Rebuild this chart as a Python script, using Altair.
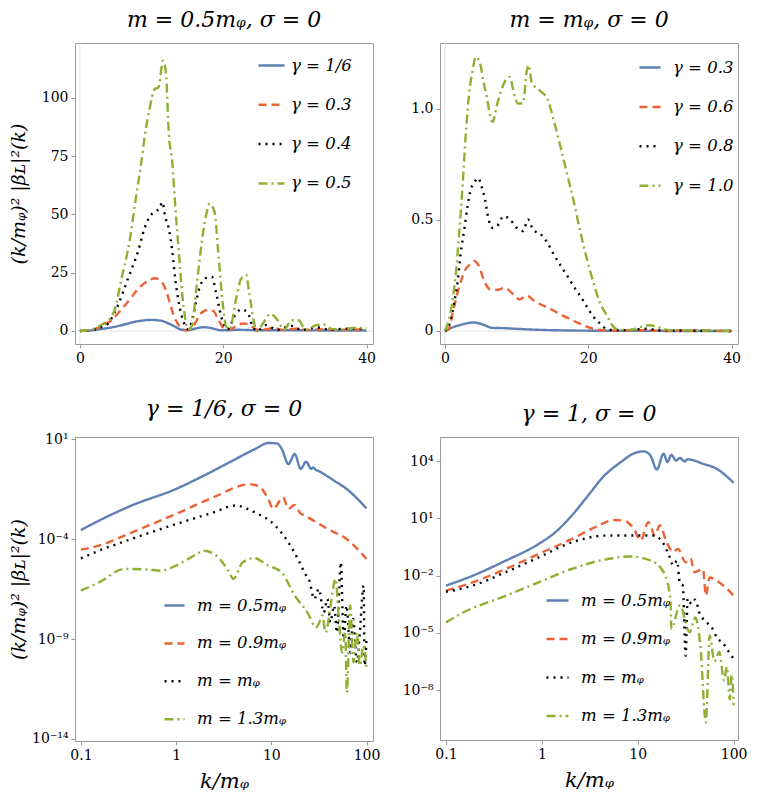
import altair as alt
import pandas as pd

FONT = "DejaVu Serif"
COLORS = ["#5E81B5", "#EB6235", "#000000", "#8FB032"]
DASHES = [[1, 0], [8, 5], [2, 5], [9, 4, 2, 4]]

# ---------------- panel 1: m = 0.5 m_phi (linear) ----------------
p1_names = ["γ = 1/6", "γ = 0.3", "γ = 0.4", "γ = 0.5"]
p1_k_blue = [0, 1.5, 2.7, 4, 5.3, 6.5, 7.6, 8.6, 9.45, 10.2, 10.8, 11.5, 12.1, 12.6, 13.3, 14, 15, 16.1, 17.3, 18.2, 19, 19.6, 20.5, 22, 25, 30, 35, 40]
p1_v_blue = [0, 0.2, 0.7, 1.3, 2.1, 3.0, 3.9, 4.4, 4.7, 4.75, 4.6, 4.3, 3.6, 2.9, 1.8, 0.7, 0.3, 1.0, 1.6, 1.3, 0.7, 0.3, 0.3, 0.5, 0.3, 0.3, 0.2, 0.2]
p1_k_red = [0, 1.5, 2.6, 3.5, 4.4, 5.3, 6.3, 7.2, 8.1, 8.8, 9.45, 10.5, 11.5, 12.0, 12.4, 12.8, 13.1, 13.6, 14, 15, 16, 16.75, 17.3, 17.9, 18.6, 19.3, 20, 20.7, 21.8, 22.7, 23.6, 24.5, 25.5, 27, 28.5, 30, 32, 34, 36, 38, 40]
p1_v_red = [0, 0.4, 1.4, 2.8, 4.6, 7.5, 11, 14.5, 18, 20, 21.4, 22.6, 20.7, 17.5, 13.6, 9.5, 6.4, 3.5, 1.4, 0.3, 2.9, 7.1, 8.5, 9, 8.6, 5, 1.4, 0.5, 2, 3.2, 2.9, 0.7, 0.5, 1.2, 0.4, 1.0, 0.4, 0.8, 0.4, 0.6, 0.4]
p1_k_black = [0, 1.5, 2.4, 3.2, 4, 4.6, 5.3, 6, 6.7, 7.4, 8.1, 9.0, 9.7, 10.6, 11.1, 11.5, 11.9, 12.4, 12.9, 13.3, 13.8, 14.5, 15.1, 15.6, 16.1, 16.8, 17.4, 18.4, 19.0, 19.7, 20.6, 21.6, 22.5, 23.4, 24.1, 24.7, 26, 27.5, 29.5, 31, 33, 35, 37, 40]
p1_v_black = [0, 0.3, 1, 2, 3.3, 6.5, 11, 16.5, 22.4, 28, 34, 43.9, 48.9, 51.4, 52.5, 55.3, 49, 44, 34, 22.4, 12.1, 3.6, 0.7, 4, 11, 19.5, 22.4, 23.3, 16.4, 6.4, 0.7, 6.4, 9.3, 7.9, 2, 0, 2.5, 0.4, 2.2, 0.4, 1.5, 0.5, 1.0, 0.8]
p1_k_green = [0, 1.5, 2.4, 3.2, 4.0, 4.9, 5.8, 6.9, 7.85, 8.5, 9.2, 9.7, 10.45, 10.96, 11.6, 12.0, 12.4, 12.9, 13.3, 13.8, 14.25, 14.7, 15.1, 15.6, 16.3, 17.0, 17.7, 18.1, 18.8, 19.3, 19.96, 20.4, 20.9, 21.8, 22.5, 23.2, 23.6, 24.3, 24.7, 25.7, 26.6, 27.5, 28.5, 29.5, 30.5, 31.5, 33, 34, 35, 36.5, 38, 39, 40]
p1_v_green = [0, 0.4, 1.7, 3, 4.6, 9.6, 22.4, 38, 58, 71, 86.7, 95, 103.9, 104.5, 116, 111, 85, 72, 54, 34, 16.7, 5.3, 0.7, 2, 19.6, 38, 51, 54.6, 51, 34, 11, 2, 0.7, 13.9, 22.4, 24, 17, 3.6, 0, 4, 7.4, 5, 0.5, 4.6, 4.6, 0.5, 2.5, 2.8, 1, 0.5, 1.3, 1.3, 1.3]

# ---------------- panel 2: m = m_phi (linear) ----------------
p2_names = ["γ = 0.3", "γ = 0.6", "γ = 0.8", "γ = 1.0"]
p2_k_blue = [0, 1.0, 2.47, 3.3, 4.07, 4.8, 5.2, 6.0, 6.6, 8, 9.9, 11.7, 14.4, 18, 22, 26, 30, 35, 40]
p2_v_blue = [0, 0.015, 0.03, 0.036, 0.038, 0.034, 0.03, 0.02, 0.014, 0.013, 0.01, 0.007, 0.004, 0.002, 0.001, 0.0005, 0.0003, 0.0002, 0.0001]
p2_k_red = [0, 0.5, 1.2, 2.0, 2.9, 3.5, 4.07, 4.75, 5.4, 6.3, 7.26, 8.4, 9.3, 10.45, 11.4, 12.5, 13.9, 15.25, 16.6, 18, 19.4, 20.7, 22.1, 23.5, 25, 28, 30, 35, 40]
p2_v_red = [0, 0.007, 0.098, 0.2, 0.278, 0.30, 0.315, 0.292, 0.232, 0.188, 0.185, 0.195, 0.172, 0.142, 0.16, 0.134, 0.112, 0.09, 0.067, 0.045, 0.025, 0.01, 0.003, 0.001, 0.002, 0.004, 0.001, 0.001, 0.0]
p2_k_black = [0, 0.5, 1.3, 1.8, 2.2, 2.7, 3.15, 3.6, 4.07, 4.66, 5.1, 5.6, 6.1, 6.6, 7.26, 8.2, 9.1, 10.0, 10.9, 11.6, 12.3, 13.4, 14.3, 15.2, 16.2, 17.1, 18, 18.9, 19.8, 20.7, 21.6, 22.6, 24, 26, 28, 30, 33, 36, 40]
p2_v_black = [0, 0.02, 0.128, 0.23, 0.35, 0.456, 0.56, 0.637, 0.667, 0.689, 0.652, 0.592, 0.502, 0.465, 0.472, 0.517, 0.502, 0.465, 0.45, 0.502, 0.457, 0.435, 0.397, 0.344, 0.292, 0.247, 0.2, 0.157, 0.11, 0.065, 0.035, 0.008, 0.003, 0.005, 0.01, 0.003, 0.002, 0.001, 0.0]
p2_k_green = [0, 0.4, 1.1, 1.55, 2.0, 2.47, 2.9, 3.4, 3.84, 4.3, 4.97, 5.4, 5.9, 6.3, 6.67, 7.26, 7.95, 8.6, 9.1, 9.5, 10.2, 10.9, 11.4, 11.7, 12.1, 13.2, 14.3, 15.25, 16.2, 17.1, 18.0, 18.9, 19.8, 20.7, 21.6, 22.6, 23.5, 24.4, 26, 27, 28.5, 30, 31, 33, 36, 40]
p2_v_green = [0, 0.033, 0.145, 0.266, 0.446, 0.656, 0.88, 1.077, 1.167, 1.234, 1.197, 1.12, 1.046, 0.97, 0.941, 1.017, 1.091, 1.136, 1.144, 1.091, 1.024, 1.026, 1.167, 1.197, 1.12, 1.084, 1.046, 0.941, 0.821, 0.701, 0.581, 0.446, 0.326, 0.22, 0.13, 0.07, 0.02, 0.005, 0.005, 0.015, 0.026, 0.015, 0.005, 0.003, 0.002, 0.001]

# ---------------- panel 3: gamma = 1/6 (log-log) ----------------
p34_names = ["m = 0.5mᵩ", "m = 0.9mᵩ", "m = mᵩ", "m = 1.3mᵩ"]
p3_k_blue = [0.1, 0.155, 0.34, 1, 1.66, 3.63, 6.76, 9.3, 11.5, 12.9, 15.1, 17.6, 20.4, 23.2, 26.3, 27.5, 29.5, 30.9, 35.5, 45.7, 61.7, 100]
p3_v_blue = [2.8e-4, 8.3e-4, 4.7e-3, 0.032, 0.1, 0.68, 3.16, 6.3, 6.0, 3.16, 0.56, 1.78, 0.32, 0.74, 0.32, 0.38, 0.28, 0.26, 0.18, 0.083, 0.032, 3.4e-3]
p3_k_red = [0.1, 0.155, 0.34, 1, 2.45, 5.9, 7.4, 9.3, 10.5, 13.3, 15.1, 17.6, 20, 22.4, 38.9, 61.7, 100]
p3_v_red = [2.95e-5, 4.7e-5, 2.1e-4, 1.8e-3, 0.012, 0.054, 0.043, 0.01, 3.2e-3, 0.012, 3.2e-3, 5e-3, 2e-3, 1.5e-3, 3.2e-4, 1e-4, 1e-5]
p3_k_black = [0.1, 0.155, 0.34, 1, 2.45, 4.17, 6.76, 11, 15.1, 19, 23.2, 25.1, 28.2, 31.6, 35.5, 38.9, 41.7, 45.7, 49, 53.7, 57.5, 61.7, 67.6, 72.4, 79.4, 85.1, 93.3, 95.5, 100]
p3_v_black = [1.07e-5, 2.6e-5, 1e-4, 5.6e-4, 2.1e-3, 4.7e-3, 2.1e-3, 4.7e-4, 6.8e-5, 1e-5, 1.5e-6, 8.3e-7, 1e-7, 3.2e-7, 2.1e-8, 1e-7, 6.8e-9, 4.7e-8, 2.1e-9, 6.8e-6, 1e-9, 4.7e-8, 2.1e-10, 1e-8, 6.8e-11, 2.1e-9, 4.7e-7, 4.7e-11, 1e-9]
p3_k_green = [0.1, 0.155, 0.288, 0.5, 0.69, 1, 1.66, 1.95, 2.63, 3.63, 3.98, 5.0, 6.6, 9.3, 12.9, 17.6, 24, 29.5, 33.1, 34.4, 37.2, 42, 47.2, 51, 55.3, 59.8, 62.2, 67.3, 73, 78.9, 85.3, 92.5, 100]
p3_v_green = [2.6e-7, 6.8e-7, 3.2e-6, 3.0e-6, 2.6e-6, 4.7e-6, 1.8e-5, 2.6e-5, 1.5e-5, 2.1e-6, 1e-6, 6.8e-6, 1.1e-5, 4.7e-6, 2.1e-6, 1.5e-7, 2.1e-8, 3.8e-9, 1e-8, 1.5e-8, 2.1e-9, 4.7e-8, 1e-6, 1.5e-8, 2.1e-10, 2.1e-9, 2.1e-12, 4.7e-8, 6.8e-11, 2.1e-9, 4.7e-11, 4.7e-10, 3.2e-11]

# ---------------- panel 4: gamma = 1 (log-log) ----------------
p4_k_blue = [0.1, 0.19, 0.42, 0.925, 1.374, 2.04, 3.02, 4.47, 6.6, 9.1, 11.5, 13.5, 15.8, 18.6, 20.4, 22.4, 25.1, 27.5, 30.9, 33.1, 47.9, 66.1, 100]
p4_v_blue = [2.95e-3, 9.8e-3, 0.06, 0.45, 1.82, 13.5, 151, 1700, 8500, 2.5e4, 3.2e4, 2.0e4, 3600, 2.4e4, 8900, 2.1e4, 1.07e4, 1.45e4, 9500, 1.23e4, 7200, 4000, 720]
p4_k_red = [0.1, 0.19, 0.42, 0.925, 2.04, 3.55, 5.7, 7.4, 9.1, 10.7, 12.9, 15.1, 17, 20, 23.4, 26.3, 31.6, 35.5, 38.9, 47.9, 51.3, 56.2, 66.1, 100]
p4_v_red = [1.6e-3, 4.4e-3, 0.022, 0.135, 0.81, 3.3, 8.1, 7.2, 2.8, 0.69, 6.3, 1.26, 4.3, 0.56, 0.17, 0.25, 0.05, 0.08, 0.015, 0.022, 8.9e-4, 7.9e-3, 5.5e-3, 8.9e-4]
p4_k_black = [0.1, 0.19, 0.42, 0.925, 2.04, 4.47, 9.8, 14.5, 18.6, 21.4, 23.4, 25.7, 27.5, 29.5, 31.6, 33.1, 36.3, 39.8, 43.7, 47.9, 54, 60.3, 67.6, 75.9, 89.1, 100]
p4_v_black = [1.4e-3, 2.95e-3, 0.015, 0.089, 0.54, 1.23, 1.26, 1.26, 0.46, 0.1, 0.034, 0.06, 4e-3, 3.0e-3, 6.3e-7, 6.3e-4, 3.2e-4, 5.4e-4, 1.2e-4, 5.4e-5, 3e-5, 1.6e-5, 5e-6, 3.2e-6, 1e-6, 4.3e-7]
p4_k_green = [0.1, 0.14, 0.42, 0.925, 2.04, 4.47, 8.3, 13.5, 18.6, 21.9, 22.4, 27.5, 34.7, 39.8, 45, 51.3, 56.2, 63, 70.8, 79.4, 85.1, 91.2, 95.5, 100]
p4_v_green = [3.5e-5, 9.5e-5, 8.7e-4, 4.4e-3, 0.022, 0.068, 0.1, 0.062, 0.015, 6e-4, 1.6e-5, 2.7e-4, 1.07e-5, 6.3e-5, 2e-6, 2e-10, 7.2e-6, 3.2e-7, 1e-6, 3.2e-8, 1.6e-7, 3.2e-9, 6.3e-8, 1.6e-9]

# ---------------- tick labels ----------------
p1_xticks = [0, 20, 40]
p1_yticks = [0, 25, 50, 75, 100]
p2_yticks = [0, 0.5, 1.0]
log_xticks = [0.1, 1, 10, 100]
p3_yticks = [1e-14, 1e-9, 1e-4, 10]
p3_ylabels = {-14: "10⁻¹⁴", -9: "10⁻⁹", -4: "10⁻⁴", 1: "10¹"}
p4_yticks = [1e-8, 1e-5, 1e-2, 10, 1e4]
p4_ylabels = {-8: "10⁻⁸", -5: "10⁻⁵", -2: "10⁻²", 1: "10¹", 4: "10⁴"}

YTITLE = "(k/mᵩ)² |βʟ|²(k)"
XTITLE = "k/mᵩ"


def pow_expr(labels):
    e = "round(log(datum.value)/LN10)"
    s = "''"
    for exp, lab in labels.items():
        s = f"{e} == {exp} ? '{lab}' : ({s})"
    return s


def frame(names, ks, vs):
    rows = []
    for n, kk, vv in zip(names, ks, vs):
        for a, b in zip(kk, vv):
            rows.append({"k": a, "v": b, "series": n})
    return pd.DataFrame(rows)


def panel(names, ks, vs, xscale, yscale, xaxis, yaxis, title, lx, ly, symlen, loff, rowpad,
          w, h, zero_lines):
    df = frame(names, ks, vs)
    entry_h = max(symlen, 17)
    leg = alt.Legend(title=None, orient="none", legendX=lx, legendY=ly - entry_h / 2,
                     symbolType="stroke", symbolSize=symlen * symlen, symbolStrokeWidth=2.5,
                     labelFont=FONT, labelFontSize=16.5, labelFontStyle="italic",
                     labelColor="black", labelOffset=loff, rowPadding=rowpad,
                     padding=0)
    line = alt.Chart(df).mark_line(clip=True, strokeWidth=2.4, interpolate="monotone").encode(
        x=alt.X("k:Q", scale=xscale, axis=xaxis),
        y=alt.Y("v:Q", scale=yscale, axis=yaxis),
        color=alt.Color("series:N", scale=alt.Scale(domain=names, range=COLORS), legend=leg),
        strokeDash=alt.StrokeDash("series:N", scale=alt.Scale(domain=names, range=DASHES), legend=leg),
    )
    layers = []
    if zero_lines:
        z = pd.DataFrame({"k": [0], "v": [0]})
        layers.append(alt.Chart(z).mark_rule(color="#e3e3e3", strokeWidth=1).encode(y="v:Q"))
        layers.append(alt.Chart(z).mark_rule(color="#e3e3e3", strokeWidth=1).encode(x="k:Q"))
    layers.append(line)
    return alt.layer(*layers).properties(width=w, height=h, title=title)


W = 298
lin_x = alt.Scale(domain=[-0.685, 40.9], nice=False, zero=False)
ax_top_x = alt.Axis(values=p1_xticks, title="", format="d")

tl = panel(p1_names, [p1_k_blue, p1_k_red, p1_k_black, p1_k_green],
           [p1_v_blue, p1_v_red, p1_v_black, p1_v_green],
           lin_x, alt.Scale(domain=[-5.6, 123.6], nice=False, zero=False),
           ax_top_x,
           alt.Axis(values=p1_yticks, title=YTITLE, titlePadding=13, format="d"),
           "m = 0.5mᵩ, σ = 0", 182, 21, 26, 5, 16.3, W, 301, True)

tr = panel(p2_names, [p2_k_blue, p2_k_red, p2_k_black, p2_k_green],
           [p2_v_blue, p2_v_red, p2_v_black, p2_v_green],
           lin_x, alt.Scale(domain=[-0.0586, 1.297], nice=False, zero=False),
           ax_top_x,
           alt.Axis(values=p2_yticks, title="",
                    labelExpr="datum.value == 0 ? '0' : format(datum.value, '.1f')"),
           "m = mᵩ, σ = 0", 198, 23, 21, 11, 18.4, W, 301, True)

log_xaxis = alt.Axis(values=log_xticks, title=XTITLE, format="~g", titlePadding=8, titleFontSize=21)

bl = panel(p34_names, [p3_k_blue, p3_k_red, p3_k_black, p3_k_green],
           [p3_v_blue, p3_v_red, p3_v_black, p3_v_green],
           alt.Scale(type="log", domain=[0.0867, 117], nice=False),
           alt.Scale(type="log", domain=[7.94e-15, 12.6], nice=False),
           log_xaxis,
           alt.Axis(values=p3_yticks, title=YTITLE, titlePadding=3, labelExpr=pow_expr(p3_ylabels)),
           "γ = 1/6, σ = 0", 88, 167, 20, 11, 17.9, W, 304, False)

br = panel(p34_names, [p4_k_blue, p4_k_red, p4_k_black, p4_k_green],
           [p4_v_blue, p4_v_red, p4_v_black, p4_v_green],
           alt.Scale(type="log", domain=[0.0867, 111], nice=False),
           alt.Scale(type="log", domain=[2.4e-11, 1.82e5], nice=False),
           log_xaxis,
           alt.Axis(values=p4_yticks, title="", labelExpr=pow_expr(p4_ylabels)),
           "γ = 1, σ = 0", 105, 162, 22, 11, 17.5, W, 303, False)

chart = alt.concat(tl, tr, bl, br, columns=2, spacing={"row": 31, "column": 20}).resolve_scale(
    color="independent", strokeDash="independent"
).resolve_legend(color="independent", strokeDash="independent").properties(
    padding={"left": 0, "top": 0, "right": 0, "bottom": 0}
).configure_view(stroke="#9a9a9a", strokeWidth=1).configure_axis(
    domain=False, grid=False, labelFont=FONT, labelFontSize=14, labelColor="black",
    tickColor="#9a9a9a", tickSize=4, labelPadding=3,
    titleFont=FONT, titleFontSize=19, titleFontWeight="normal", titleFontStyle="italic",
    titleColor="black"
).configure_title(font=FONT, fontSize=22, fontStyle="italic", fontWeight="normal",
                  color="black", offset=11)

chart.save("out.html", embed_options={"renderer": "svg", "actions": False})
